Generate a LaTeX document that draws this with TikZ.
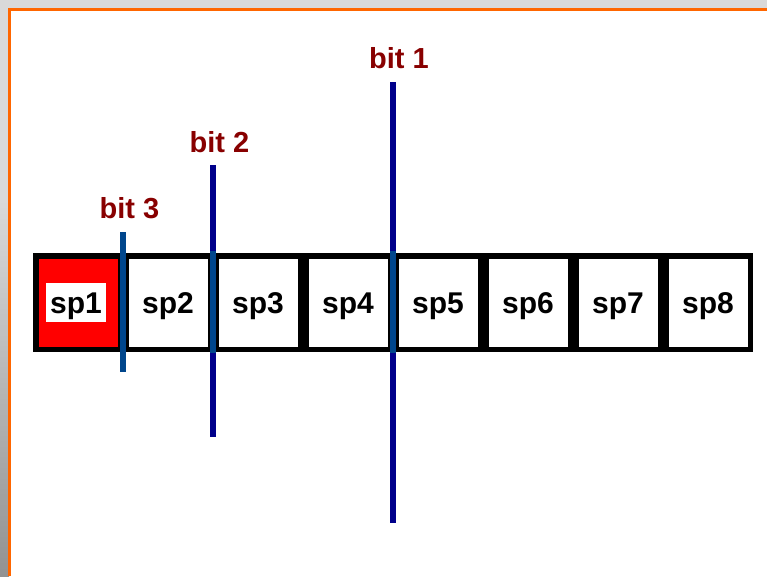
\documentclass[tikz,border=0pt]{standalone}
\usepackage{fontspec}
\setmainfont{Liberation Sans}
\definecolor{bggray}{HTML}{D9D9D9}
\definecolor{bgdark}{HTML}{929292}
\definecolor{frameorange}{HTML}{FF6600}
\definecolor{labelred}{HTML}{880000}
\definecolor{cutnavy}{HTML}{00008B}
\definecolor{cutsteel}{HTML}{00468C}
\begin{document}
\begin{tikzpicture}[x=1pt,y=-1pt,
  cell/.style={draw=black,line width=5.5pt,fill=white,minimum width=84.5pt,minimum height=93.5pt,inner sep=0pt},
  celltext/.style={font=\fontsize{30}{30}\selectfont\bfseries,anchor=base,inner sep=0pt},
  bitlabel/.style={font=\fontsize{29}{29}\selectfont\bfseries,text=labelred,anchor=base,inner sep=0pt},
  cutline/.style={line width=6pt,draw=cutnavy},
  cutinner/.style={line width=6pt,draw=cutsteel}]
\useasboundingbox (0,0) rectangle (767,576);
% background
\fill[bggray] (0,0) rectangle (767,576);
\shade[top color=bggray,bottom color=bgdark] (0,200) rectangle (9,576);
\fill[white] (9,9) rectangle (767,576);
\draw[frameorange,line width=2.5pt] (9.25,576) -- (9.25,9.25) -- (767,9.25);
% cells
\foreach \i in {1,...,8}{
  \node[cell] (c\i) at ({78+90*(\i-1)},302.5) {};
}
\fill[red] (38.5,258.5) rectangle (118,346.5);
\node[fill=white,minimum width=60pt,minimum height=39pt,inner sep=0pt] (w1) at (76,302.5) {};
\node[celltext] (t1) at (76,313.5) {sp1};
\foreach \i in {2,...,8}{
  \node[celltext] (t\i) at ({78+90*(\i-1)},313.5) {sp\i};
}
% cut lines
\coordinate (b3top) at (123,232);
\coordinate (b3bot) at (123,372);
\coordinate (b2top) at (213,165);
\coordinate (b2bot) at (213,437);
\coordinate (b1top) at (393,82);
\coordinate (b1bot) at (393,523);
\coordinate (b2in1) at (213,251);
\coordinate (b2in2) at (213,353);
\coordinate (b1in1) at (393,251);
\coordinate (b1in2) at (393,353);
\draw[cutinner] (b3top) -- (b3bot);
\draw[cutline] (b2top) -- (b2bot);
\draw[cutline] (b1top) -- (b1bot);
\draw[cutinner] (b2in1) -- (b2in2);
\draw[cutinner] (b1in1) -- (b1in2);
% labels
\node[bitlabel] (l3) at (129.5,218) {bit 3};
\node[bitlabel] (l2) at (219.5,152) {bit 2};
\node[bitlabel] (l1) at (399,68) {bit 1};
\end{tikzpicture}
\end{document}
